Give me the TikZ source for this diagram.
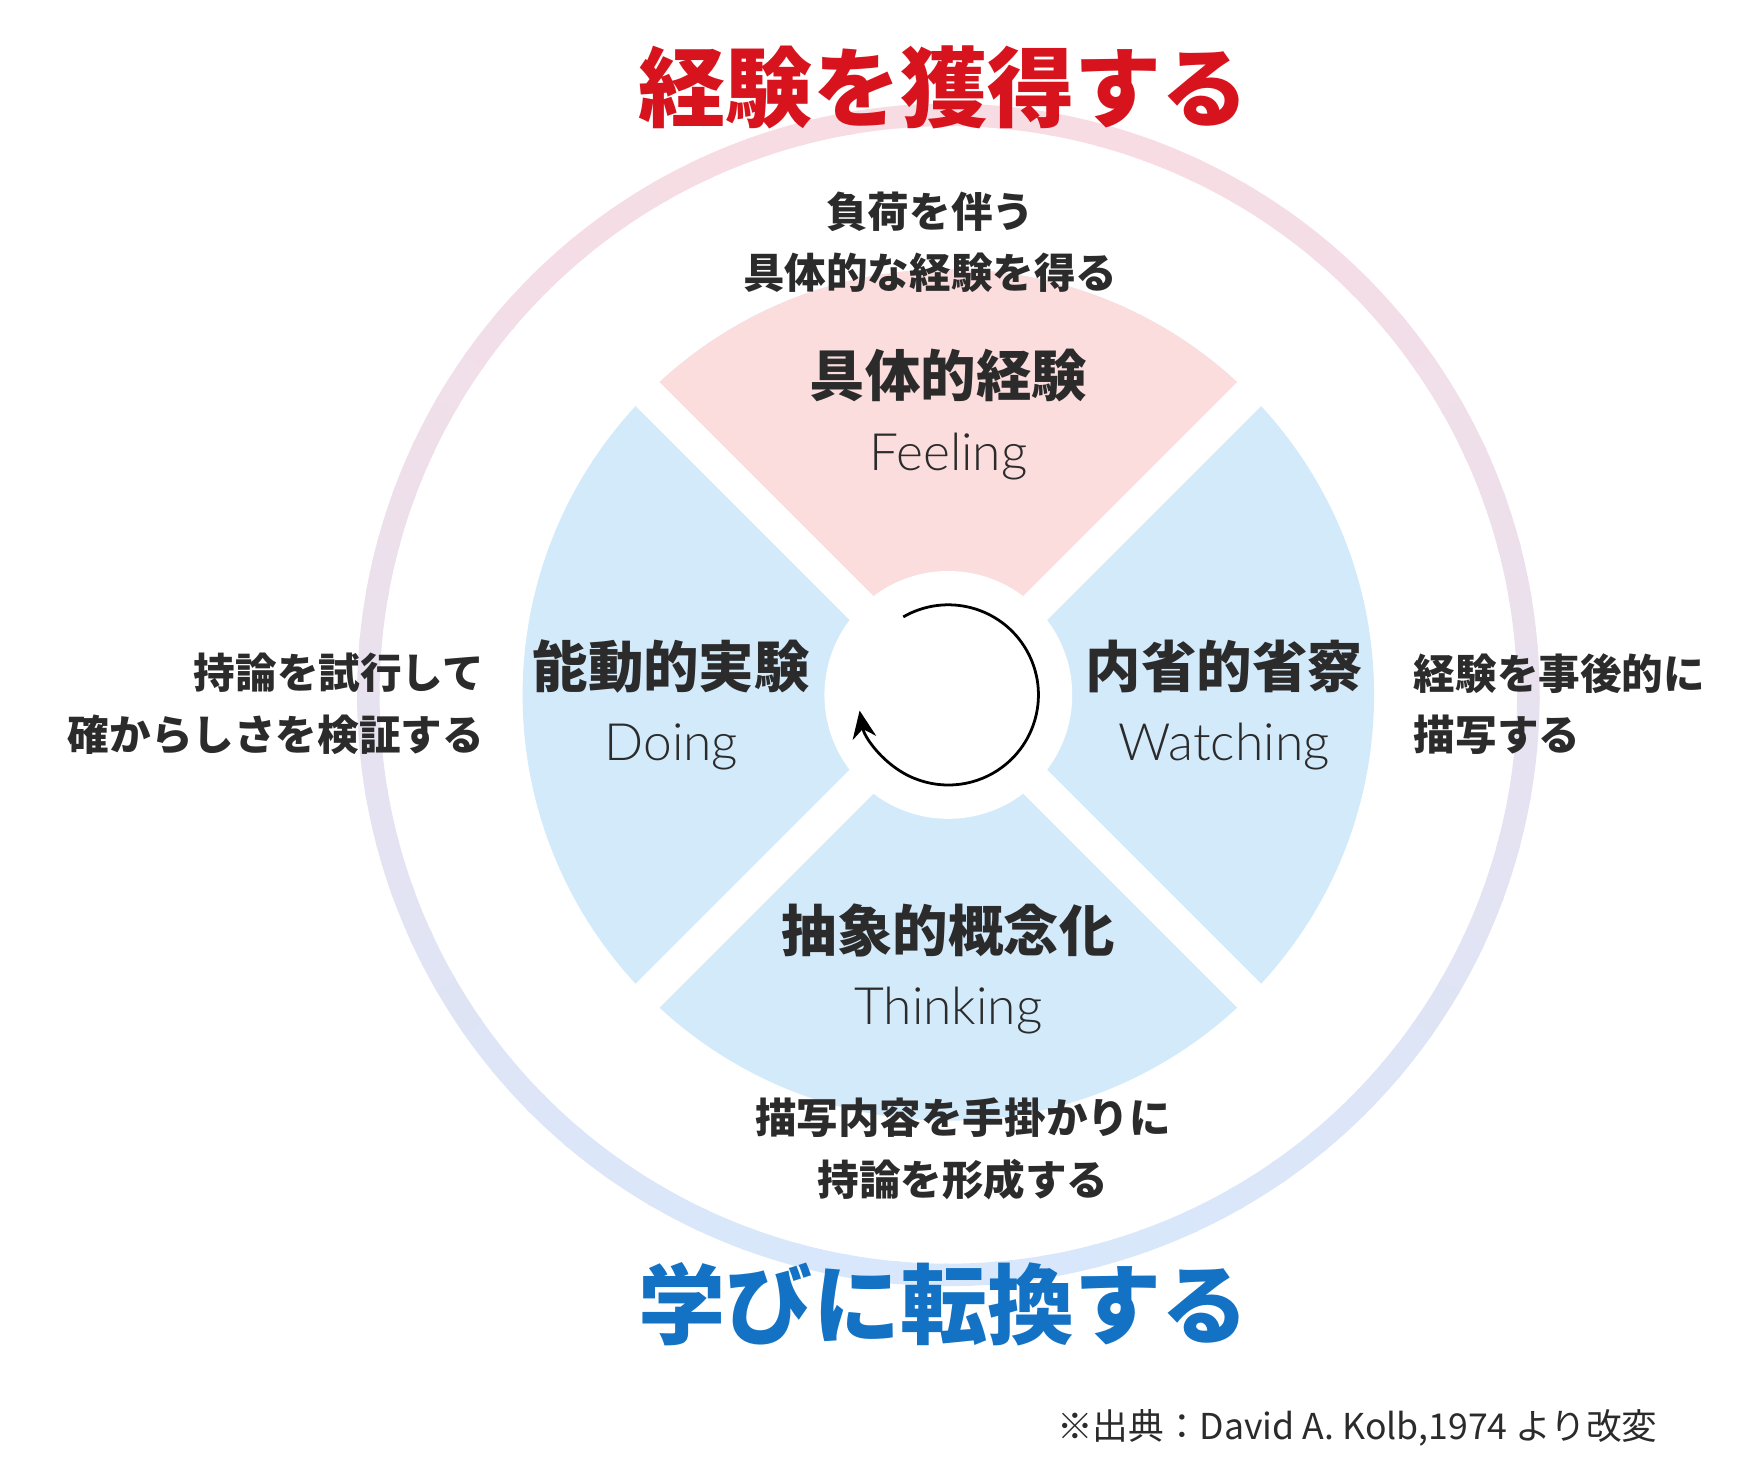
\documentclass[tikz,border=0pt]{standalone}
\usepackage{fontspec}
\setmainfont{Noto Sans CJK JP}
\newfontfamily\latinlight{Lato Light}
\usetikzlibrary{arrows.meta}
\definecolor{ringtop}{HTML}{F8DCE3}
\definecolor{ringbot}{HTML}{D8E7FB}
\definecolor{feelpink}{HTML}{FBDDDD}
\definecolor{quadblue}{HTML}{D3EAFB}
\definecolor{headred}{HTML}{D7141E}
\definecolor{headblue}{HTML}{1372C4}
\definecolor{inktext}{HTML}{2B2B2B}
\tikzset{
  headline/.style={font=\fontsize{22}{24}\selectfont\bfseries},
  phase/.style={font=\fontsize{14}{16}\selectfont\bfseries, text=inktext},
  mode/.style={font=\fontsize{13}{15}\selectfont\latinlight, text=inktext},
  remark/.style={font=\fontsize{10.5}{15.5}\selectfont\bfseries, text=inktext, align=center},
  gapline/.style={white, line width=0.3cm}
}
\begin{document}
\begin{tikzpicture}[x=0.01cm,y=-0.01cm]
\useasboundingbox (0,0) rectangle (1560,1303);
\coordinate (c) at (842,617);
% outer ring
\foreach \a in {0,5,...,355}{
  \pgfmathsetmacro\m{50-50*sin(\a+2.5)}
  \draw[color=ringtop!\m!ringbot, line width=0.2cm] ([shift={(\a:515)}]c) arc[start angle=\a, end angle=\a+5.5, radius=515];
}
% quadrants
\fill[quadblue] (c) circle[radius=378];
\fill[feelpink] (c) -- ++(225:378) arc[start angle=225, end angle=315, radius=378] -- cycle;
\draw[gapline] ([shift={(45:400)}]c) -- ([shift={(225:400)}]c);
\draw[gapline] ([shift={(135:400)}]c) -- ([shift={(315:400)}]c);
\fill[white] (c) circle[radius=110];
% cycle arrow
\draw[line width=0.7pt, -{Stealth[length=7pt,width=6pt]}] ([shift={(-120:80)}]c) arc[start angle=-120, end angle=170, radius=80];
% headlines
\node (gain) [headline, text=headred] at (838,78) {経験を獲得する};
\node (learn) [headline, text=headblue] at (838,1158) {学びに転換する};
% phases
\node (ce) [phase] at (842,333) {具体的経験};
\node (ceen) [mode] at (842,405) {Feeling};
\node (ae) [phase] at (596,592) {能動的実験};
\node (aeen) [mode] at (596,663) {Doing};
\node (ro) [phase] at (1087,592) {内省的省察};
\node (roen) [mode] at (1087,663) {Watching};
\node (ac) [phase] at (842,826) {抽象的概念化};
\node (acen) [mode] at (842,897) {Thinking};
% remarks
\node (topnote) [remark] at (826,215) {負荷を伴う\\具体的な経験を得る};
\node (leftnote) [remark, align=right, anchor=east] at (442,625) {持論を試行して\\確からしさを検証する};
\node (rightnote) [remark, align=left, anchor=west] at (1243,625) {経験を事後的に\\描写する};
\node (botnote) [remark] at (855,1020) {描写内容を手掛かりに\\持論を形成する};
\node (source) [anchor=east, font=\fontsize{9}{11}\selectfont, text=inktext] at (1484,1268) {※出典：David A. Kolb,1974 より改変};
\end{tikzpicture}
\end{document}
